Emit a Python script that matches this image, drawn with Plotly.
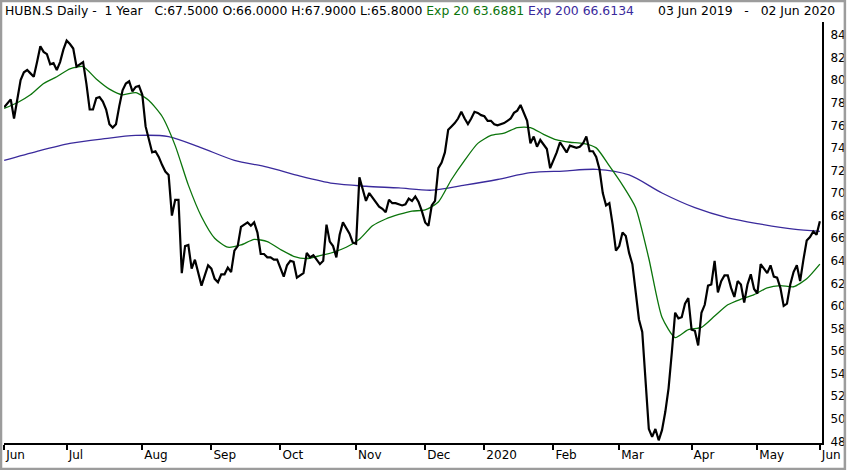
import pandas as pd
import plotly.graph_objects as go

# -----------------------------
# DATA
# -----------------------------
# SIX trading days, 03 Jun 2019 - 02 Jun 2020
holidays = ["2019-06-10", "2019-08-01", "2019-12-24", "2019-12-25", "2019-12-26",
            "2019-12-31", "2020-01-01", "2020-01-02", "2020-04-10", "2020-04-13",
            "2020-05-01", "2020-05-21", "2020-06-01"]
days = pd.bdate_range("2019-06-03", "2020-06-02")
days = days[~days.isin(pd.to_datetime(holidays))]

closes = [
    77.6, 78.0, 78.3, 76.6, 78.3, 80.0, 80.7, 80.9, 80.6, 80.3,
    81.6, 83.0, 82.5, 82.3, 81.4, 81.5, 80.9, 81.6, 82.7, 83.5,
    83.2, 82.8, 81.2, 81.4, 81.6, 79.7, 77.4, 77.4, 78.4, 78.5,
    78.1, 77.4, 76.1, 75.8, 76.1, 77.7, 79.1, 79.7, 79.9, 79.0,
    79.4, 79.5, 78.7, 75.9, 74.6, 73.6, 73.7, 73.2, 72.5, 71.9,
    71.6, 68.0, 69.4, 69.4, 62.9, 65.3, 65.4, 63.3, 64.1, 62.9,
    61.8, 62.7, 63.6, 63.3, 62.4, 62.1, 62.8, 62.8, 63.4, 63.0,
    64.9, 65.3, 67.0, 67.2, 67.4, 67.1, 67.4, 66.5, 64.6, 64.6,
    64.3, 64.3, 64.1, 64.1, 63.4, 62.6, 63.6, 64.0, 63.9, 62.5,
    62.7, 62.9, 64.7, 64.3, 64.5, 64.1, 63.7, 64.0, 67.2, 65.7,
    65.3, 64.3, 66.3, 67.4, 66.9, 66.4, 65.6, 65.5, 71.4, 70.3,
    69.3, 70.0, 69.6, 69.1, 68.8, 68.6, 68.3, 69.4, 69.1, 69.1,
    69.0, 68.9, 69.0, 69.5, 69.3, 69.7, 69.2, 68.4, 67.4, 67.1,
    68.9, 69.3, 72.2, 72.7, 73.6, 75.6, 75.9, 76.2, 76.6, 77.2,
    76.6, 76.1, 76.6, 77.2, 77.1, 76.9, 76.8, 76.4, 76.4, 76.1,
    76.0, 76.1, 76.2, 76.4, 76.6, 77.1, 77.3, 77.8, 77.1, 76.4,
    74.4, 75.0, 74.1, 74.7, 74.3, 73.9, 72.2, 72.9, 73.6, 74.5,
    74.1, 73.6, 74.2, 74.1, 74.0, 74.1, 74.4, 75.0, 73.7, 73.7,
    73.2, 72.1, 70.0, 68.9, 69.1, 67.2, 64.9, 65.3, 66.5, 66.2,
    64.7, 63.7, 61.5, 58.8, 57.7, 53.3, 49.1, 48.4, 49.1, 48.1,
    49.0, 50.6, 52.7, 55.9, 59.4, 58.9, 59.0, 60.2, 60.7, 57.9,
    57.8, 56.5, 59.4, 60.1, 61.8, 61.9, 64.0, 61.2, 62.2, 62.7,
    62.7, 61.6, 60.8, 62.2, 61.9, 60.3, 61.9, 62.8, 61.5, 61.1,
    63.7, 63.3, 62.9, 63.6, 62.6, 62.5, 61.6, 60.0, 60.2, 61.9,
    63.0, 63.6, 62.2, 64.1, 65.8, 66.1, 66.6, 66.3, 67.5,
]

# Exp 20, read every 4th trading day
ema20_idx = list(range(0, 249, 4))
ema20 = [
    77.5, 78.0, 78.7, 79.7, 80.3, 81.0, 81.2, 80.1, 79.2, 78.7,
    78.9, 78.2, 76.8, 74.2, 70.7, 67.9, 66.0, 65.2, 65.4, 65.9,
    65.7, 65.0, 64.4, 64.2, 64.45, 64.75, 65.2, 65.9, 67.1, 67.7,
    68.1, 68.4, 68.5, 69.2, 71.2, 72.9, 74.4, 75.1, 75.3, 75.8,
    75.8, 75.2, 74.7, 74.5, 74.4, 74.0, 72.4, 70.7, 68.7, 64.2,
    59.0, 57.2, 57.9, 58.1, 59.1, 60.1, 60.6, 61.0, 61.6, 61.8,
    61.7, 62.4, 63.7,
]

# Exp 200, read every 10th trading day
ema200_idx = list(range(0, 241, 10)) + [248]
ema200 = [
    72.9, 73.7, 74.4, 74.8, 75.1, 75.0, 74.0, 72.9, 72.3, 71.5,
    70.85, 70.6, 70.45, 70.25, 70.7, 71.2, 71.8, 71.95, 72.1, 71.6,
    70.0, 68.7, 67.8, 67.25, 66.8, 66.6,
]

month_labels = ["Jun", "Jul", "Aug", "Sep", "Oct", "Nov", "Dec",
                "2020", "Feb", "Mar", "Apr", "May", "Jun"]
y_ticks = list(range(48, 85, 2))

# -----------------------------
# PREP
# -----------------------------
n = min(len(days), len(closes))
idx = list(range(n))
month_pos = [0] + [i for i in range(1, n) if days[i].month != days[i - 1].month]

GREEN = "#0b740b"
PURPLE = "#3a2a9c"

# -----------------------------
# CHART
# -----------------------------
fig = go.Figure()
fig.add_trace(go.Scatter(x=ema200_idx, y=ema200, mode="lines",
                         line=dict(color=PURPLE, width=1.3, shape="spline", smoothing=0.8)))
fig.add_trace(go.Scatter(x=ema20_idx, y=ema20, mode="lines",
                         line=dict(color=GREEN, width=1.3, shape="spline", smoothing=0.6)))
fig.add_trace(go.Scatter(x=idx, y=closes[:n], mode="lines",
                         line=dict(color="black", width=2.2)))

sp = "\u00a0"
header = (f"HUBN.S Daily -{sp*2}1 Year{sp*3}C:67.5000 O:66.0000 H:67.9000 L:65.8000 "
          f"<span style='color:{GREEN}'>Exp 20 63.6881</span> "
          f"<span style='color:{PURPLE}'>Exp 200 66.6134</span>")

W, H = 850, 470
L, R, T, B = 4, 24, 22, 27
pw, ph = W - L - R, H - T - B

fig.add_annotation(text=header, xref="paper", yref="paper",
                   x=(3 - L) / pw, y=(H - B - 11) / ph,
                   xanchor="left", yanchor="middle", showarrow=False,
                   font=dict(family="DejaVu Sans", size=12.4, color="black"))
fig.add_annotation(text=f"03 Jun 2019{sp*3}-{sp*3}02 Jun 2020", xref="paper", yref="paper",
                   x=(841 - L) / pw, y=(H - B - 11) / ph,
                   xanchor="right", yanchor="middle", showarrow=False,
                   font=dict(family="DejaVu Sans", size=12.4, color="black"))

# outer window frame
fig.add_shape(type="rect", xref="paper", yref="paper",
              x0=(1 - L) / pw, x1=(W - 1 - L) / pw,
              y0=(H - B - (H - 1)) / ph, y1=(H - B - 1) / ph,
              line=dict(color="#9c9c9c", width=2.5))

fig.update_layout(
    width=W, height=H,
    margin=dict(l=L, r=R, t=T, b=B),
    paper_bgcolor="white", plot_bgcolor="white",
    showlegend=False,
    font=dict(family="DejaVu Sans", size=12, color="black"),
)
fig.update_xaxes(range=[-0.05, 248.65], tickvals=month_pos, ticktext=month_labels[:len(month_pos)],
                 ticks="outside", ticklen=5, tickwidth=2, tickcolor="black",
                 ticklabelposition="outside right",
                 showline=True, linecolor="black", linewidth=2,
                 showgrid=False, zeroline=False)
fig.update_yaxes(range=[47.86, 85.15], tickvals=y_ticks, side="right",
                 showline=True, linecolor="black", linewidth=2, ticks="", ticklen=0,
                 ticklabelstandoff=4,
                 showgrid=False, zeroline=False)

# page body has a default 8px margin; drop it so the figure sits at the window corner
fig.write_html("out.html", config={"displayModeBar": False},
               post_script="document.body.style.margin='0px';")
